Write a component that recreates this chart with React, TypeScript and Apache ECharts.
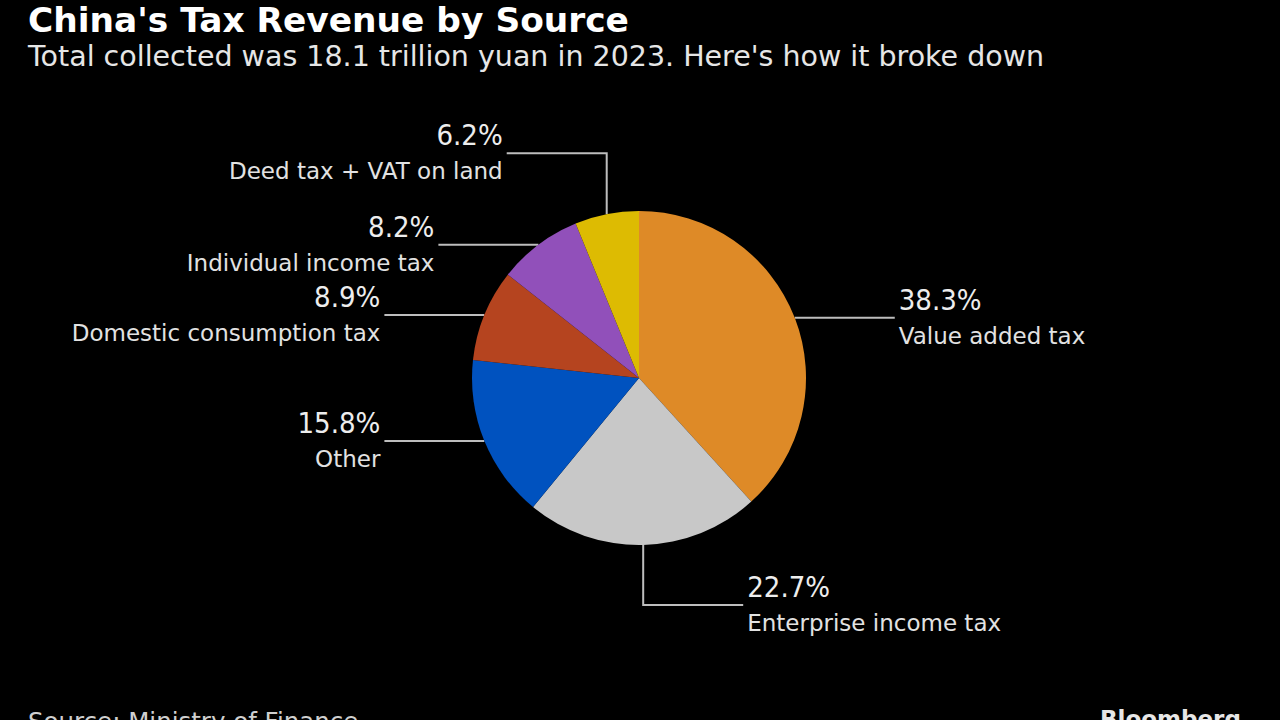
import React, { useEffect, useRef } from "react";
import * as echarts from "echarts";

const titleText = "China's Tax Revenue by Source";
const subtitleText = "Total collected was 18.1 trillion yuan in 2023. Here's how it broke down";
const sourceText = "Source: Ministry of Finance";
const brandText = "Bloomberg";

const categories = [
  "Value added tax",
  "Enterprise income tax",
  "Other",
  "Domestic consumption tax",
  "Individual income tax",
  "Deed tax + VAT on land",
];
const shares = [38.3, 22.7, 15.8, 8.9, 8.2, 6.2];
const sliceColors = ["#DE8A27", "#C8C8C8", "#0052BF", "#B5441F", "#9150BA", "#DDBB02"];

const FONT_C = "'DejaVu Sans Condensed', 'Liberation Sans Narrow', 'DejaVu Sans', sans-serif";
const FONT = "'DejaVu Sans', 'Noto Sans', sans-serif";
const CX = 639;
const CY = 378;
const R = 167;

export default function App() {
  const ref = useRef<HTMLDivElement>(null);

  useEffect(() => {
    if (!ref.current) return;
    const chart = echarts.init(ref.current, null, { renderer: "svg" });

    const total = shares.reduce((a, b) => a + b, 0);

    const option: any = {
      animation: false,
      backgroundColor: "#000000",
      title: [
        {
          text: titleText,
          left: 23,
          top: 0,
          textStyle: { color: "#FFFFFF", fontSize: 34.4, lineHeight: 30, fontWeight: "bold", fontFamily: FONT },
        },
        {
          text: subtitleText,
          left: 23,
          top: 37,
          textStyle: { color: "#E6E6E6", fontSize: 28.5, fontWeight: "normal", fontFamily: FONT },
        },
        {
          text: sourceText,
          left: 23,
          top: 704,
          textStyle: { color: "#CFCFCF", fontSize: 24.5, fontWeight: "normal", fontFamily: FONT },
        },
        {
          text: brandText,
          left: 1095,
          top: 702,
          textStyle: { color: "#E6E6E6", fontSize: 23, fontWeight: "bold", fontFamily: FONT },
        },
      ],
      series: [
        {
          type: "pie",
          center: [CX, CY],
          radius: [0, R],
          startAngle: 90,
          clockwise: true,
          avoidLabelOverlap: false,
          itemStyle: { borderWidth: 0 },
          emphasis: { disabled: true },
          data: categories.map((name, i) => ({
            name,
            value: shares[i],
            itemStyle: { color: sliceColors[i] },
          })),
          label: {
            show: true,
            position: "outside",
            formatter: (p: any) => `{v|${p.value}%}\n{n|${p.name}}`,
            rich: {
              v: { fontSize: 29, lineHeight: 36, color: "#EDEDED", fontFamily: FONT_C },
              n: { fontSize: 23, lineHeight: 36, color: "#E2E2E2", fontFamily: FONT },
            },
          },
          labelLine: {
            show: true,
            length: 20,
            length2: 20,
            lineStyle: { color: "#BDBDBD", width: 2 },
          },
          labelLayout: (params: any) => {
            let start: number[];
            if (params.labelLinePoints && params.labelLinePoints[0]) {
              start = params.labelLinePoints[0];
            } else {
              let before = 0;
              for (let k = 0; k < params.dataIndex; k++) before += shares[k];
              const midFrac = (before + shares[params.dataIndex] / 2) / total;
              const ang = (90 - midFrac * 360) * Math.PI / 180;
              start = [CX + R * Math.cos(ang), CY - R * Math.sin(ang)];
            }
            const dx = start[0] - CX;
            const dy = start[1] - CY;
            const len = Math.hypot(dx, dy) || 1;
            const left = dx < 0;
            const dir = left ? -1 : 1;
            let mid: number[];
            let end: number[];
            if (Math.abs(dy) / len > 0.95) {
              const vy = start[1] + (dy < 0 ? -61 : 60);
              mid = [start[0], vy];
              end = [start[0] + dir * 100, vy];
            } else {
              mid = [start[0] + dir * 50, start[1]];
              end = [start[0] + dir * 100, start[1]];
            }
            return {
              x: end[0] + dir * 4,
              y: end[1],
              align: left ? "right" : "left",
              verticalAlign: "middle",
              labelLinePoints: [start, mid, end],
            };
          },
        },
      ],
    };

    chart.setOption(option);
    return () => chart.dispose();
  }, []);

  return (
    <div
      ref={ref}
      style={{ position: "fixed", left: 0, top: 0, width: 1280, height: 720, background: "#000" }}
    />
  );
}
